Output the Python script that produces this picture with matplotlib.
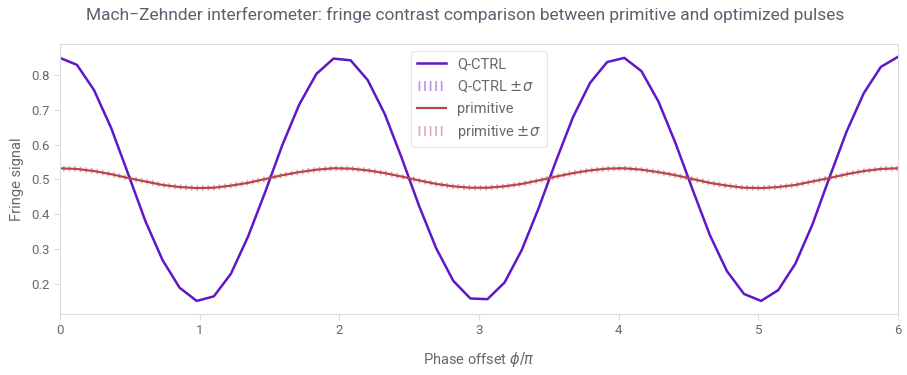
"""
Mach-Zehnder fringe contrast: Q-CTRL optimized pulse vs primitive pulse.
"""

import numpy as np
import matplotlib.pyplot as plt

# phase offsets in units of pi
phase = np.linspace(0, 6, 50)

# fringe signal
qctrl_signal = [0.850, 0.830, 0.757, 0.648, 0.515, 0.380, 0.268, 0.188, 0.150, 0.163,
                0.228, 0.335, 0.463, 0.598, 0.716, 0.804, 0.848, 0.843, 0.786, 0.688,
                0.560, 0.424, 0.302, 0.208, 0.157, 0.155, 0.203, 0.296, 0.418, 0.552,
                0.679, 0.778, 0.838, 0.850, 0.812, 0.724, 0.604, 0.470, 0.340, 0.236,
                0.170, 0.150, 0.181, 0.257, 0.370, 0.506, 0.638, 0.748, 0.824, 0.853]
qctrl_sigma = [0.002] * 50

primitive_signal = [0.532, 0.530, 0.524, 0.515, 0.504, 0.494, 0.484, 0.478, 0.475, 0.476,
                    0.482, 0.490, 0.501, 0.512, 0.521, 0.528, 0.532, 0.531, 0.526, 0.518,
                    0.508, 0.497, 0.487, 0.480, 0.476, 0.476, 0.480, 0.487, 0.497, 0.508,
                    0.518, 0.526, 0.531, 0.532, 0.528, 0.521, 0.512, 0.501, 0.490, 0.482,
                    0.476, 0.475, 0.478, 0.484, 0.494, 0.504, 0.515, 0.524, 0.530, 0.532]
primitive_sigma = [0.008] * 50

QCTRL_COLOR = '#5F17C9'
PRIMITIVE_COLOR = '#B8454B'
TEXT_COLOR = '#6A6670'
SPINE_COLOR = '#DCDCDC'

plt.rcParams['font.family'] = ['Roboto', 'DejaVu Sans']
plt.rcParams['hatch.linewidth'] = 1.2

fig, ax = plt.subplots(figsize=[9.07, 3.75], dpi=100)
fig.subplots_adjust(left=0.066, right=0.990, top=0.883, bottom=0.163)


def plot_series(x, y, sigma, color, label, lw):
    y = np.asarray(y)
    sigma = np.asarray(sigma)
    ax.plot(x, y, color=color, linewidth=lw, label=label)
    ax.fill_between(x, y - sigma, y + sigma, facecolor='none', edgecolor=color,
                    alpha=0.45, hatch='|||', linewidth=0, label=label + r' $\pm\sigma$')


plot_series(phase, qctrl_signal, qctrl_sigma, QCTRL_COLOR, 'Q-CTRL', 1.8)
plot_series(phase, primitive_signal, primitive_sigma, PRIMITIVE_COLOR, 'primitive', 1.6)

ax.set_xlim(0, 6)
ax.set_xticks(range(7))
ax.set_yticks([0.2, 0.3, 0.4, 0.5, 0.6, 0.7, 0.8])

for spine in ax.spines.values():
    spine.set_color(SPINE_COLOR)
ax.tick_params(colors=SPINE_COLOR, labelcolor=TEXT_COLOR, labelsize=9.5, length=4)

ax.set_xlabel(r'Phase offset $\phi/\pi$', color=TEXT_COLOR, fontsize=10.5, labelpad=9)
ax.set_ylabel('Fringe signal', color=TEXT_COLOR, fontsize=10.5, labelpad=5)

fig.text(0.513, 0.96, 'Mach\u2212Zehnder interferometer: fringe contrast comparison between '
         'primitive and optimized pulses', ha='center', va='center', fontsize=12.5,
         color='#625C70')

leg = ax.legend(loc='upper center', fontsize=10.5, frameon=True, framealpha=1,
                edgecolor='#E4E4E4', labelcolor=TEXT_COLOR, borderpad=0.4)
leg.get_frame().set_linewidth(0.8)

plt.savefig('out.png', dpi=100)
